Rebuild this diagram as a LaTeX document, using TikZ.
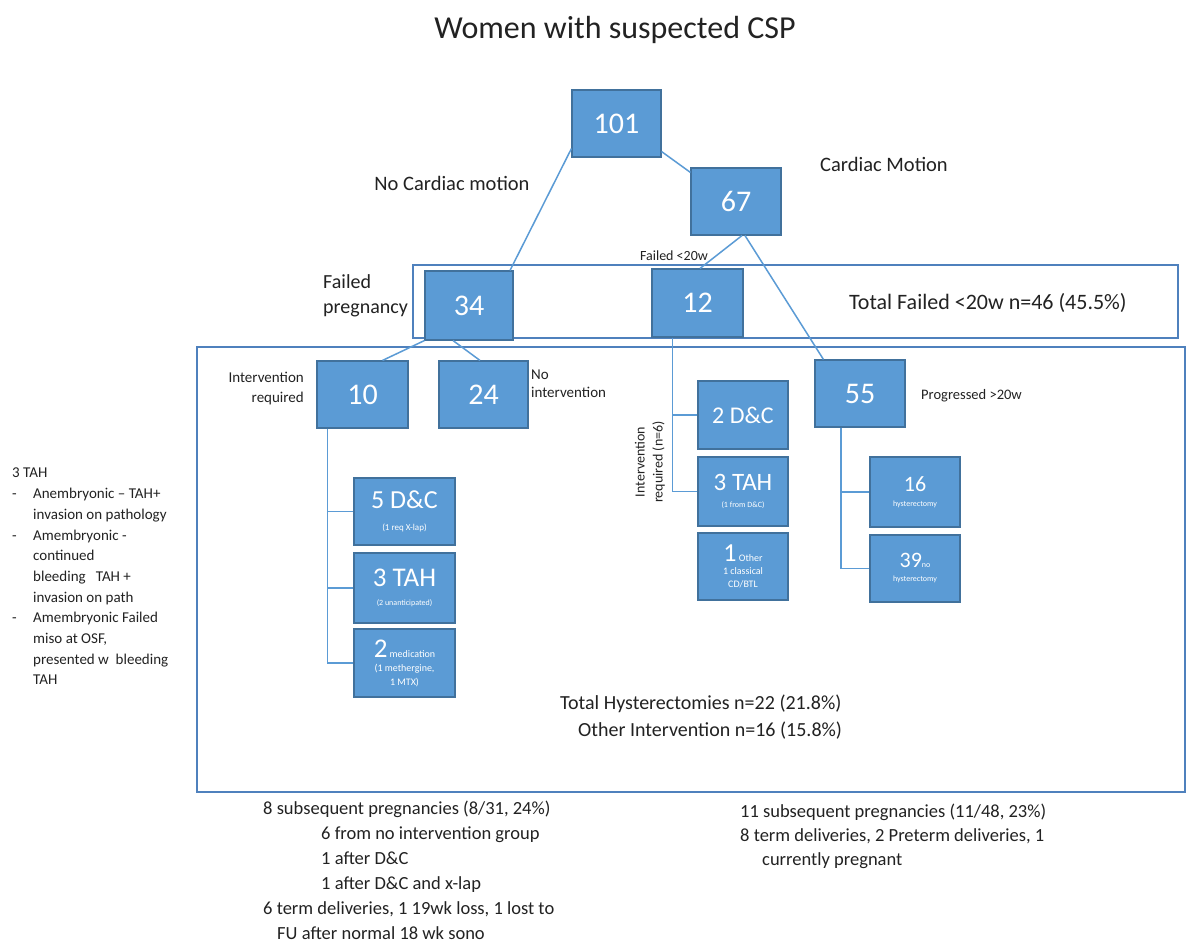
\documentclass[tikz,border=0pt]{standalone}
\usepackage{fontspec}
\setmainfont{Carlito}
\usetikzlibrary{calc}
\definecolor{boxfill}{HTML}{5B9BD5}
\definecolor{boxline}{HTML}{41719C}
\definecolor{connc}{HTML}{5B9BD5}
\definecolor{framec}{HTML}{4F81BD}
\definecolor{txt}{HTML}{222222}
\newcommand{\fs}[2]{\fontsize{#1}{#2}\selectfont}
\begin{document}
\begin{tikzpicture}[x=1pt,y=-1pt,
  box/.style={draw=boxline, fill=boxfill, line width=1.1pt, text=white, align=center, inner sep=0pt},
  big/.style={font=\fs{30}{32}},
  conn/.style={draw=connc, line width=1.5pt},
  frame/.style={draw=framec, line width=1.3pt},
  lbl/.style={text=txt, inner sep=0pt}]
\useasboundingbox[fill=white] (0,0) rectangle (1187,944);

% frames
\draw[frame] (413,265) rectangle (1178,338);
\draw[frame] (197,347) rectangle (1185,792);

% boxes
\node[box, big, minimum width=89, minimum height=67] (n101) at (616.5,123.5) {101};
\node[box, big, minimum width=90, minimum height=67] (n67) at (736,201.5) {67};
\node[box, big, minimum width=88, minimum height=69] (n34) at (469,305.5) {34};
\node[box, big, minimum width=91, minimum height=68] (n12) at (697.5,303) {12};
\node[box, big, minimum width=91, minimum height=67] (n10) at (362.5,394.5) {10};
\node[box, big, minimum width=89, minimum height=67] (n24) at (483.5,394.5) {24};
\node[box, big, minimum width=90, minimum height=67] (n55) at (860,393.5) {55};

\node[box, minimum width=101, minimum height=67, font=\fs{9}{22}] (dc5) at (404.5,511.5)
  {{\fs{26}{26}5 D\&C}\\(1 req X-lap)};
\node[box, minimum width=101, minimum height=70, font=\fs{8}{19}] (tah3) at (404.5,588)
  {{\fs{27}{27}3 TAH}\\(2 unanticipated)};
\node[box, minimum width=101, minimum height=68, font=\fs{10}{14}] (med2) at (404.5,663)
  {{\fs{27}{27}2} medication\\(1 methergine,\\1 MTX)};

\node[box, minimum width=90, minimum height=68, font=\fs{24}{26}] (dc2) at (743,415) {2 D\&C};
\node[box, minimum width=90, minimum height=69, font=\fs{8}{17}] (tah3b) at (743,491.5)
  {{\fs{25}{25}3 TAH}\\(1 from D\&C)};
\node[box, minimum width=90, minimum height=67, font=\fs{10}{13}] (other1) at (743,566.5)
  {{\fs{26}{26}1} Other\\1 classical\\CD/BTL};

\node[box, minimum width=90, minimum height=70, font=\fs{8}{15}] (h16) at (915,492)
  {{\fs{22}{22}16}\\hysterectomy};
\node[box, minimum width=90, minimum height=67, font=\fs{8}{14}] (h39) at (915,568.5)
  {{\fs{22}{22}39}no\\hysterectomy};

% connectors
\draw[conn] ($(n101.south west)+(0,-9)$) -- ($(n34.north)+(41,0)$);
\draw[conn] ($(n101.south east)+(0,-6)$) -- ($(n67.north west)+(0,5)$);
\draw[conn] ($(n67.south)+(6,0)$) -- ($(n12.north)+(2.5,0)$);
\draw[conn] ($(n67.south)+(9,0)$) -- ($(n55.north west)+(9,0)$);
\draw[conn] ($(n34.south west)+(0,0)$) -- ($(n10.north)+(20,0)$);
\draw[conn] ($(n34.south)+(-16,0)$) -- ($(n24.north)+(-3.5,0)$);

\coordinate (t10) at ($(n10.south)+(-35,0)$);
\draw[conn] (t10) |- (dc5.west);
\draw[conn] (t10) |- (tah3.west);
\draw[conn] (t10) |- (med2.west);

\coordinate (t12) at ($(n12.south)+(-25,0)$);
\draw[conn] (t12) |- (dc2.west);
\draw[conn] (t12) |- (tah3b.west);

\coordinate (t55) at ($(n55.south)+(-19,0)$);
\draw[conn] (t55) |- (h16.west);
\draw[conn] (t55) |- (h39.west);

% labels
\node[lbl, anchor=base, font=\fs{32}{36}] (title) at (615,39) {Women with suspected CSP};
\node[lbl, anchor=base, font=\fs{20.5}{24}] (nocm) at (452,191) {No Cardiac motion};
\node[lbl, anchor=base, font=\fs{20.5}{24}] (cm) at (884,172) {Cardiac Motion};
\node[lbl, anchor=base, font=\fs{14}{16}] (f20) at (674,261) {Failed <20w};
\node[lbl, anchor=north west, align=left, font=\fs{20}{25}] (fp) at (323,274) {Failed\\pregnancy};
\node[lbl, anchor=base west, font=\fs{22}{26}] (tf) at (849,309) {Total Failed <20w n=46 (45.5\%)};
\node[lbl, anchor=north east, align=right, font=\fs{15}{20}] (ir) at (304,372) {Intervention\\required};
\node[lbl, anchor=north west, align=left, font=\fs{15}{18}] (ni) at (531,370) {No\\intervention};
\node[lbl, anchor=base west, font=\fs{14.5}{17}] (pg) at (921,399) {Progressed >20w};
\node[lbl, rotate=90, align=center, font=\fs{14}{18}] (ir6) at (650,462) {Intervention\\required (n=6)};

\node[lbl, anchor=north west, align=left, font=\fs{15}{20.7}] (left) at (12,468)
 {3 TAH\\
  \makebox[21pt][l]{-}Anembryonic – TAH+\\
  \hspace*{21pt}invasion on pathology\\
  \makebox[21pt][l]{-}Amembryonic -\\
  \hspace*{21pt}continued\\
  \hspace*{21pt}bleeding\ \ \ TAH +\\
  \hspace*{21pt}invasion on path\\
  \makebox[21pt][l]{-}Amembryonic Failed\\
  \hspace*{21pt}miso at OSF,\\
  \hspace*{21pt}presented w\ \ bleeding\\
  \hspace*{21pt}TAH};

\node[lbl, anchor=base west, font=\fs{20}{24}] (th) at (560,709) {Total Hysterectomies n=22 (21.8\%)};
\node[lbl, anchor=base west, font=\fs{20}{24}] (oi) at (578,736) {Other Intervention n=16 (15.8\%)};

\node[lbl, anchor=north west, align=left, font=\fs{18.5}{25}] (bl) at (263,801)
 {8 subsequent pregnancies (8/31, 24\%)\\
  \hspace*{58pt}6 from no intervention group\\
  \hspace*{58pt}1 after D\&C\\
  \hspace*{58pt}1 after D\&C and x-lap\\
  6 term deliveries, 1 19wk loss, 1 lost to\\
  \hspace*{14pt}FU after normal 18 wk sono};

\node[lbl, anchor=north west, align=left, font=\fs{18.5}{24}] (br) at (740,804)
 {11 subsequent pregnancies (11/48, 23\%)\\
  8 term deliveries, 2 Preterm deliveries, 1\\
  \hspace*{22pt}currently pregnant};
\end{tikzpicture}
\end{document}
